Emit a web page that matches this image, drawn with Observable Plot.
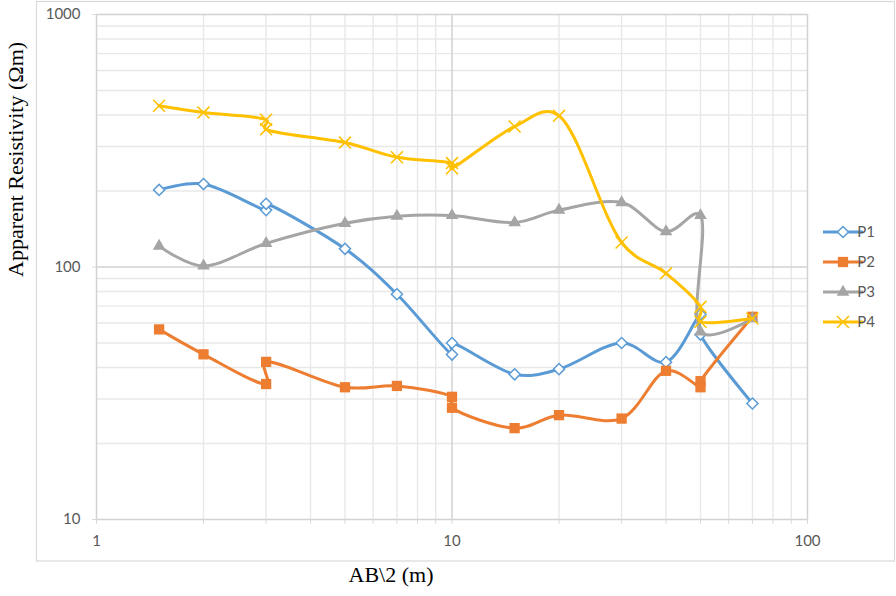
<!DOCTYPE html>
<html><head><meta charset="utf-8">
<script src="https://cdn.jsdelivr.net/npm/d3@7"></script>
<script src="https://cdn.jsdelivr.net/npm/@observablehq/plot@0.6"></script>
<style>body{margin:0;background:#fff} #chart svg{display:block}</style>
</head><body><div id="chart"></div>
<script>
const series = ["P1", "P2", "P3", "P4"];
const colors = ["#5B9BD5", "#ED7D31", "#A5A5A5", "#FFC000"];

const xP1 = [1.5, 2, 3, 3, 5, 7, 10, 10, 15, 20, 30, 40, 50, 50, 70];
const yP1 = [202, 213, 168, 178, 118, 78, 45, 50, 37.6, 39.4, 50, 42, 65, 54, 28.8];
const xP2 = [1.5, 2, 3, 3, 5, 7, 10, 10, 15, 20, 30, 40, 50, 50, 70];
const yP2 = [56.6, 45.1, 34.4, 42.1, 33.4, 33.8, 30.6, 27.7, 23, 25.9, 25.1, 38.8, 33.4, 35.3, 63.5];
const xP3 = [1.5, 2, 3, 5, 7, 10, 15, 20, 30, 40, 50, 50, 70];
const yP3 = [121, 101, 124, 149, 159, 160, 150, 168, 180, 138, 160, 55.4, 62.5];
const xP4 = [1.5, 2, 3, 3, 5, 7, 10, 10, 15, 20, 30, 40, 50, 50, 70];
const yP4 = [435, 409, 383, 351, 311, 272, 258, 246, 360, 397, 125, 94.4, 69.5, 60.7, 62.5];

const xMajor = [1, 10, 100];
const xMinor = [2, 3, 4, 5, 6, 7, 8, 9, 20, 30, 40, 50, 60, 70, 80, 90];
const yMajor = [10, 100, 1000];
const yMinor = [20, 30, 40, 50, 60, 70, 80, 90, 200, 300, 400, 500, 600, 700, 800, 900];

const xTitle = "AB\\2 (m)";
const yTitle = "Apparent Resistivity (Ωm)";

const xs = [xP1, xP2, xP3, xP4];
const ys = [yP1, yP2, yP3, yP4];
const tables = series.map((s, i) => xs[i].map((x, j) => ({series: s, x, y: ys[i][j]})));

const symbols = ["diamond2", "square", "triangle", "times"];
const symbolR = [5, 5.8, 4.7, 5.5];

const seriesMarks = [];
tables.forEach((t, i) => {
  seriesMarks.push(Plot.line(t, {x: "x", y: "y", stroke: colors[i], strokeWidth: 3, curve: "catmull-rom", tension: 0.25}));
  if (i === 0) {
    seriesMarks.push(Plot.dot(t, {x: "x", y: "y", symbol: "diamond2", r: symbolR[i], fill: "white", stroke: colors[i], strokeWidth: 1.5}));
  } else if (i === 3) {
    seriesMarks.push(Plot.dot(t, {x: "x", y: "y", symbol: "times", r: symbolR[i], fill: "none", stroke: colors[i], strokeWidth: 1.6}));
  } else {
    seriesMarks.push(Plot.dot(t, {x: "x", y: "y", symbol: symbols[i], r: symbolR[i], fill: colors[i], stroke: "none"}));
  }
});

const chart = Plot.plot({
  width: 896,
  height: 596,
  marginLeft: 96,
  marginRight: 89,
  marginTop: 14,
  marginBottom: 77,
  style: {background: "#fff", fontFamily: "Lato, sans-serif"},
  x: {type: "log", domain: [1, 100]},
  y: {type: "log", domain: [10, 1000]},
  marks: [
    Plot.ruleX(xMinor, {stroke: "#e8e8e8", strokeWidth: 1.4}),
    Plot.ruleY(yMinor, {stroke: "#e8e8e8", strokeWidth: 1.4}),
    Plot.ruleX(xMajor, {stroke: "#d2d2d2", strokeWidth: 1.5}),
    Plot.ruleY(yMajor, {stroke: "#d2d2d2", strokeWidth: 1.5}),
    Plot.axisX({ticks: xMinor.concat(xMajor), tickSize: 5, tickFormat: () => "", stroke: "#d9d9d9", label: null}),
    Plot.axisX({ticks: xMajor, tickSize: 0, tickPadding: 16, fontSize: 15, fill: "#595959", tickFormat: d => String(d), label: null}),
    Plot.axisY({ticks: yMajor, tickSize: 4, tickPadding: 12, fontSize: 15, fill: "#595959", stroke: "#d9d9d9", tickFormat: d => String(d), label: null}),
    Plot.text([xTitle], {text: d => d, frameAnchor: "bottom", dx: -61, dy: 62, fontFamily: "Liberation Serif", fontSize: 22, fill: "#000"}),
    Plot.text([yTitle], {text: d => d, frameAnchor: "left", rotate: -90, dx: -81, dy: 10, fontFamily: "Liberation Serif", fontSize: 22, fill: "#000"}),
    ...seriesMarks
  ]
});

document.getElementById("chart").appendChild(chart);

// chart-area border and legend
const svg = d3.select(chart);
svg.append("rect")
  .attr("x", 36.5).attr("y", 1.5).attr("width", 858).attr("height", 559.5)
  .attr("fill", "none").attr("stroke", "#d9d9d9").attr("stroke-width", 1.2);

const legendY = [232, 262, 292, 322];
const d3Symbols = [d3.symbolDiamond2, d3.symbolSquare, d3.symbolTriangle, d3.symbolTimes];
const lg = svg.append("g");
series.forEach((s, i) => {
  const g = lg.append("g").attr("transform", `translate(0,${legendY[i]})`);
  g.append("line").attr("x1", 823).attr("x2", 863).attr("y1", 0).attr("y2", 0)
    .attr("stroke", colors[i]).attr("stroke-width", 3);
  const size = Math.PI * symbolR[i] * symbolR[i];
  const p = g.append("path").attr("transform", "translate(843,0)")
    .attr("d", d3.symbol(d3Symbols[i], size)());
  if (i === 0) p.attr("fill", "white").attr("stroke", colors[i]).attr("stroke-width", 1.5);
  else if (i === 3) p.attr("fill", "none").attr("stroke", colors[i]).attr("stroke-width", 1.6);
  else p.attr("fill", colors[i]);
  g.append("text").attr("x", 866).attr("y", 0).attr("dy", "0.35em")
    .attr("font-family", "Lato, sans-serif").attr("font-size", 15).attr("fill", "#595959").text(s);
});
</script>
</body></html>
